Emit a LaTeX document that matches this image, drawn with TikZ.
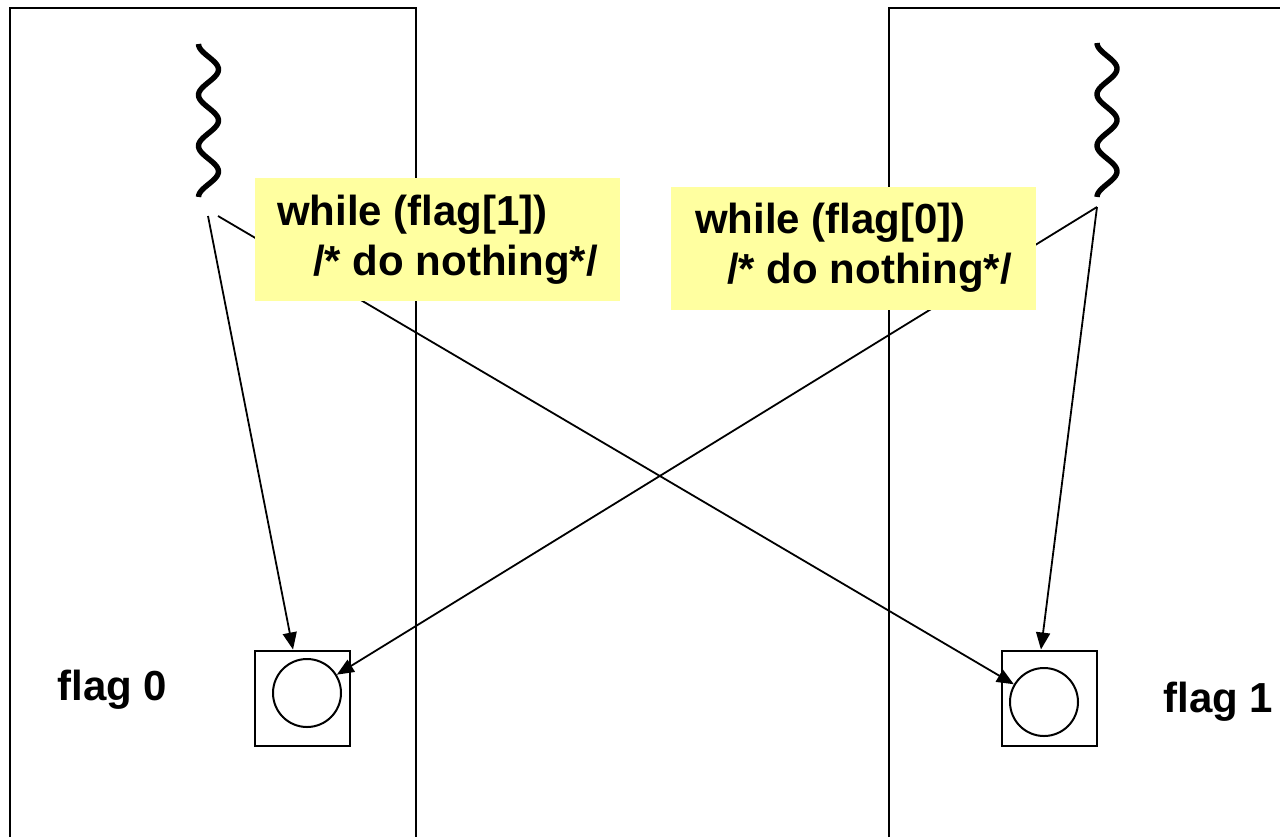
\documentclass[tikz,border=0pt]{standalone}
\usepackage{fontspec}
\setmainfont{Liberation Sans}
\usepackage{xcolor}
\usetikzlibrary{positioning,calc,arrows.meta}
\definecolor{codeyellow}{RGB}{255,255,160}

\begin{document}
\begin{tikzpicture}[
    x=0.5pt, y=-0.5pt,
    font=\fontsize{21}{25}\selectfont\bfseries,
    procline/.style={line width=1pt},
    wave/.style={line width=2.7pt},
    codebox/.style={rectangle, fill=codeyellow, align=left, minimum width=182.5pt, minimum height=61.5pt, inner sep=0pt},
    flagbox/.style={rectangle, draw, line width=1pt, minimum size=47.5pt, inner sep=0pt},
    flagbit/.style={circle, draw, line width=1pt, minimum size=34pt, inner sep=0pt},
    link/.style={-{Triangle[length=8.5pt,width=7pt]}, line width=0.9pt}
]
    \useasboundingbox (0,0) rectangle (1280,837);

    % Processes
    \draw[procline] (10,837) -- (10,8) -- (416,8) -- (416,837);
    \draw[procline] (889,837) -- (889,8) -- (1280,8);
    \draw[wave] plot[domain=0:1, samples=90, variable=\t] ({208.5-10*cos(1080*\t)}, {44+153*\t});
    \draw[wave] plot[domain=0:1, samples=90, variable=\t] ({1107-10*cos(1080*\t)}, {43+154*\t});
    \coordinate (tail0a) at (208,216);
    \coordinate (tail0b) at (218,216);
    \coordinate (tail1) at (1097,207);

    % Flags
    \node[flagbox] (flag0box) at (302.5,698) {};
    \node[flagbit] (flag0bit) at (307,693) {};
    \node[anchor=base west, inner sep=0pt] (flag0label) at (57,700) {flag 0};
    \node[flagbox] (flag1box) at (1049.5,698) {};
    \node[flagbit] (flag1bit) at (1044,702) {};
    \node[anchor=base west, inner sep=0pt] (flag1label) at (1163,712) {flag 1};

    \draw[link] (tail0a) -- (flag0box);
    \draw[link] (tail0b) -- (flag1bit);
    \draw[link] (tail1) -- (flag0bit);
    \draw[link] (tail1) -- (flag1box.100);

    % Busy waiting
    \node[codebox] (wait0) at (437.5,239.5) {while (flag[1])\\\hspace*{18pt}/* do nothing*/};
    \node[codebox] (wait1) at (853.5,248) {while (flag[0])\\\hspace*{16pt}/* do nothing*/};
\end{tikzpicture}
\end{document}
